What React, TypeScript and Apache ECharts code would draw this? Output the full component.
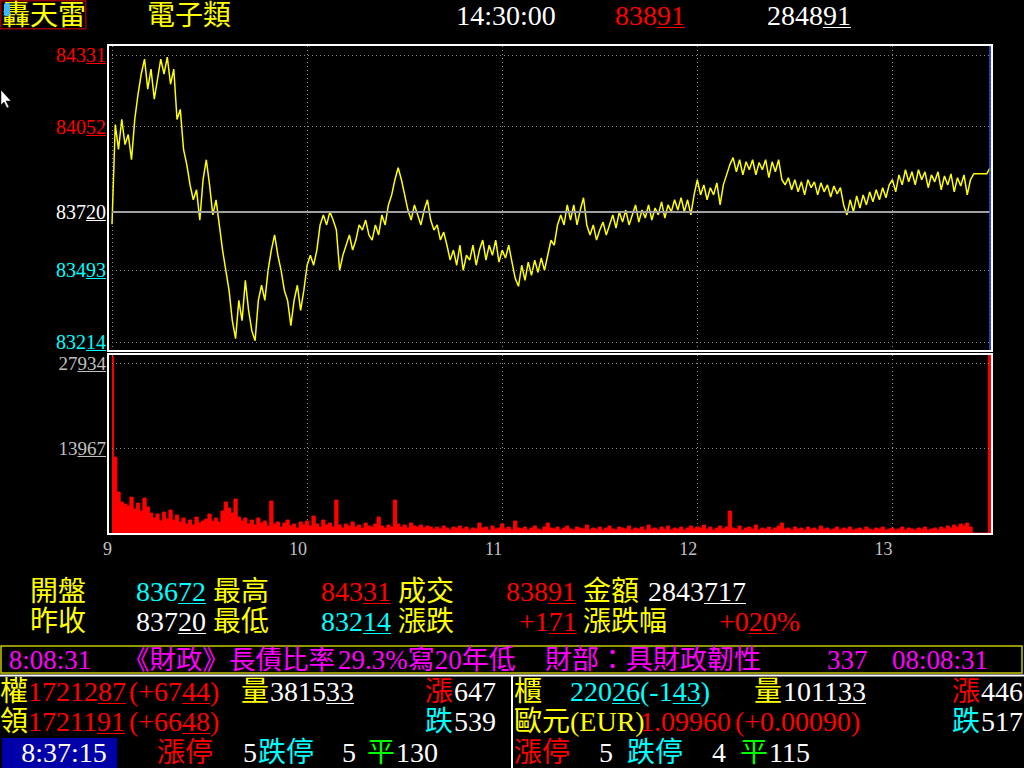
import { useEffect, useRef } from "react";
import * as echarts from "echarts";

const FONT = "'Liberation Serif', 'Noto Sans CJK TC', serif";

const HOUR_LABELS = ["9", "10", "11", "12", "13"];
const PRICE_LEVELS = [84331, 84052, 83720, 83493, 83214];
const PREV_CLOSE = 83720;
const VOLUME_LEVELS = [13967, 27934];

// index price, one value per minute from 9:00 (0) to 13:30 (270)
const PRICE: number[] = [
  83672, 84060, 83963, 84080, 83982, 84021, 83923, 84080, 84178, 84257,
  84315, 84198, 84276, 84159, 84237, 84315, 84257, 84323, 84217, 84276,
  84080, 84119, 83963, 83904, 83825, 83767, 83806, 83688, 83845, 83923,
  83825, 83708, 83767, 83669, 83571, 83492, 83414, 83296, 83226, 83375,
  83296, 83453, 83336, 83257, 83218, 83375, 83434, 83375, 83492, 83571,
  83630, 83551, 83492, 83414, 83375, 83277, 83375, 83434, 83336, 83414,
  83512, 83551, 83512, 83571, 83669, 83708, 83669, 83720, 83688, 83649,
  83492, 83551, 83590, 83630, 83571, 83610, 83669, 83649, 83688, 83630,
  83610, 83669, 83630, 83708, 83669, 83747, 83786, 83845, 83892, 83845,
  83786, 83727, 83688, 83747, 83708, 83669, 83727, 83767, 83688, 83649,
  83669, 83610, 83641, 83590, 83532, 83571, 83512, 83590, 83492, 83551,
  83532, 83590, 83512, 83571, 83610, 83532, 83590, 83551, 83610, 83524,
  83571, 83540, 83590, 83524, 83461, 83430, 83512, 83453, 83524, 83473,
  83532, 83484, 83540, 83492, 83551, 83610, 83590, 83669, 83708, 83669,
  83747, 83688, 83747, 83669, 83727, 83775, 83669, 83630, 83669, 83610,
  83649, 83680, 83630, 83669, 83708, 83657, 83720, 83680, 83727, 83669,
  83708, 83747, 83680, 83727, 83696, 83747, 83688, 83735, 83708, 83759,
  83696, 83747, 83720, 83767, 83727, 83775, 83720, 83767, 83708, 83786,
  83845, 83786, 83825, 83767, 83814, 83786, 83833, 83747, 83825, 83864,
  83904, 83931, 83876, 83923, 83864, 83915, 83884, 83923, 83864, 83912,
  83884, 83923, 83853, 83915, 83876, 83923, 83845, 83825, 83853, 83806,
  83845, 83798, 83837, 83786, 83845, 83814, 83837, 83786, 83833, 83798,
  83825, 83778, 83821, 83790, 83814, 83747, 83708, 83767, 83720, 83782,
  83735, 83786, 83747, 83798, 83759, 83806, 83767, 83814, 83775, 83825,
  83845, 83798, 83864, 83825, 83884, 83837, 83876, 83825, 83884, 83845,
  83876, 83814, 83864, 83837, 83876, 83806, 83860, 83825, 83868, 83798,
  83853, 83821, 83864, 83786, 83845, 83868, 83868, 83868, 83868, 83868,
  83891,
];

// traded volume per minute
const VOLUME: number[] = [
  29000, 12460, 6720, 5080, 4760, 4430, 5900, 3940, 4920, 3610,
  5740, 4260, 3280, 2460, 3120, 1970, 3440, 2300, 3770, 2130,
  2950, 1800, 2460, 1480, 2130, 1310, 2620, 1640, 1970, 2300,
  3120, 1970, 2460, 1800, 3610, 5080, 4100, 3280, 5580, 2620,
  1970, 2460, 1480, 2130, 1310, 2460, 1640, 1970, 1150, 5250,
  1480, 1800, 980, 1640, 2130, 1150, 1480, 820, 1800, 1310,
  1970, 1150, 2790, 1480, 980, 2130, 1310, 1640, 980, 5410,
  1310, 820, 1480, 1150, 1800, 980, 1310, 820, 1640, 1150,
  980, 1480, 2620, 1150, 820, 1310, 980, 5410, 1480, 980,
  1310, 820, 1640, 1150, 980, 1310, 820, 1150, 980, 660,
  980, 660, 1150, 820, 490, 980, 820, 1150, 660, 980,
  490, 820, 660, 1640, 820, 980, 490, 1150, 660, 820,
  1480, 660, 980, 490, 1970, 820, 660, 980, 490, 820,
  1150, 660, 490, 980, 1640, 820, 660, 980, 490, 820,
  1150, 660, 490, 980, 820, 660, 1310, 490, 820, 660,
  980, 490, 820, 1150, 660, 490, 980, 820, 660, 1150,
  490, 820, 660, 980, 490, 1310, 660, 820, 490, 980,
  660, 1150, 490, 820, 660, 980, 490, 820, 1150, 660,
  980, 820, 1310, 660, 980, 490, 820, 1150, 660, 980,
  3610, 820, 660, 1150, 490, 820, 980, 660, 1310, 490,
  820, 660, 980, 490, 820, 1150, 1640, 660, 820, 490,
  980, 660, 820, 490, 980, 660, 820, 490, 1150, 660,
  820, 490, 660, 980, 490, 820, 660, 980, 490, 660,
  820, 490, 980, 660, 490, 820, 660, 980, 490, 660,
  820, 490, 660, 980, 490, 820, 660, 490, 820, 660,
  980, 490, 660, 820, 490, 980, 660, 1150, 820, 1310,
  980, 1480, 1150, 1640, 980, 0, 0, 0, 0, 0,
  31000,
];

const Y = "#ffff00";
const R = "#ff0000";
const C = "#00ffff";
const W = "#ffffff";
const G = "#00ff00";
const M = "#ff00ff";
const GRAY = "#c0c0c0";

type Item = { x: number; y: number; t: string; c: string; s?: number; ul?: [number, number]; a?: "left" | "center" };

const TEXTS: Item[] = [
  // header
  { x: 2, y: 15, t: "轟天雷", c: Y },
  { x: 147, y: 15, t: "電子類", c: Y },
  { x: 506, y: 15, t: "14:30:00", c: W, a: "center" },
  { x: 615, y: 15, t: "83891", c: R, ul: [3, 5] },
  { x: 767, y: 15, t: "284891", c: W, ul: [4, 6] },
  // summary rows
  { x: 30, y: 591, t: "開盤", c: Y },
  { x: 136, y: 591, t: "83672", c: C, ul: [3, 5] },
  { x: 213, y: 591, t: "最高", c: Y },
  { x: 321, y: 591, t: "84331", c: R, ul: [3, 5] },
  { x: 398, y: 591, t: "成交", c: Y },
  { x: 506, y: 591, t: "83891", c: R, ul: [3, 5] },
  { x: 583, y: 591, t: "金額", c: Y },
  { x: 648, y: 591, t: "2843717", c: W, ul: [4, 7] },
  { x: 30, y: 621, t: "昨收", c: Y },
  { x: 136, y: 621, t: "83720", c: W, ul: [3, 5] },
  { x: 213, y: 621, t: "最低", c: Y },
  { x: 321, y: 621, t: "83214", c: C, ul: [3, 5] },
  { x: 398, y: 621, t: "漲跌", c: Y },
  { x: 519, y: 621, t: "+171", c: R, ul: [2, 4] },
  { x: 583, y: 621, t: "漲跌幅", c: Y },
  { x: 719, y: 621, t: "+020%", c: R, ul: [2, 4] },
  // ticker
  { x: 50, y: 660, t: "8:08:31", c: M, a: "center", s: 27 },
  { x: 123, y: 660, t: "《財政》長債比率", c: M, s: 26.5 },
  { x: 338, y: 660, t: "29.3%寫20年低", c: M, s: 27 },
  { x: 545, y: 660, t: "財部：具財政韌性", c: M, s: 27 },
  { x: 827, y: 660, t: "337", c: M, s: 27 },
  { x: 940, y: 660, t: "08:08:31", c: M, a: "center", s: 27 },
  // bottom left
  { x: 0, y: 691, t: "權", c: Y },
  { x: 28, y: 691, t: "1721287", c: R, ul: [5, 7] },
  { x: 129, y: 691, t: "(+6744)", c: R, ul: [4, 6] },
  { x: 241, y: 691, t: "量", c: Y },
  { x: 270, y: 691, t: "381533", c: W, ul: [4, 6] },
  { x: 425, y: 691, t: "漲", c: R },
  { x: 454, y: 691, t: "647", c: W },
  { x: 0, y: 721, t: "領", c: Y },
  { x: 28, y: 721, t: "1721191", c: R, ul: [5, 7] },
  { x: 129, y: 721, t: "(+6648)", c: R, ul: [4, 6] },
  { x: 425, y: 721, t: "跌", c: C },
  { x: 454, y: 721, t: "539", c: W },
  { x: 64, y: 752, t: "8:37:15", c: W, a: "center" },
  { x: 157, y: 752, t: "漲停", c: R },
  { x: 243, y: 752, t: "5", c: W },
  { x: 258, y: 752, t: "跌停", c: C },
  { x: 342, y: 752, t: "5", c: W },
  { x: 367, y: 752, t: "平", c: G },
  { x: 396, y: 752, t: "130", c: W },
  // bottom right
  { x: 514, y: 691, t: "櫃", c: Y },
  { x: 570, y: 691, t: "22026", c: C, ul: [3, 5] },
  { x: 640, y: 691, t: "(-143)", c: C, ul: [3, 5] },
  { x: 754, y: 691, t: "量", c: Y },
  { x: 783, y: 691, t: "101133", c: W, ul: [4, 6] },
  { x: 952, y: 691, t: "漲", c: R },
  { x: 981, y: 691, t: "446", c: W },
  { x: 514, y: 721, t: "歐元(EUR)", c: Y },
  { x: 640, y: 721, t: "1.09960", c: R },
  { x: 735, y: 721, t: "(+0.00090)", c: R },
  { x: 952, y: 721, t: "跌", c: C },
  { x: 981, y: 721, t: "517", c: W },
  { x: 514, y: 752, t: "漲停", c: R },
  { x: 599, y: 752, t: "5", c: W },
  { x: 627, y: 752, t: "跌停", c: C },
  { x: 712, y: 752, t: "4", c: W },
  { x: 740, y: 752, t: "平", c: G },
  { x: 769, y: 752, t: "115", c: W },
];

let ctx2d: CanvasRenderingContext2D | null = null;
function measure(s: string, size: number): number {
  if (!ctx2d) ctx2d = document.createElement("canvas").getContext("2d");
  if (!ctx2d) return s.length * size * 0.5;
  ctx2d.font = `${size}px ${FONT}`;
  return ctx2d.measureText(s).width;
}

function textEls(it: Item): any[] {
  const size = it.s ?? 28;
  const w = measure(it.t, size);
  const left = it.a === "center" ? it.x - w / 2 : it.x;
  const els: any[] = [
    {
      type: "text",
      x: left,
      y: it.y,
      z: 50,
      silent: true,
      style: {
        text: it.t,
        fill: it.c,
        font: `${size}px ${FONT}`,
        align: "left",
        verticalAlign: "middle",
        textAlign: "left",
        textVerticalAlign: "middle",
      },
    },
  ];
  if (it.ul) {
    const a = left + measure(it.t.slice(0, it.ul[0]), size);
    const b = left + measure(it.t.slice(0, it.ul[1]), size);
    const uy = Math.round(it.y + size * 0.42) + 0.5;
    els.push({
      type: "line",
      z: 50,
      silent: true,
      shape: { x1: a, y1: uy, x2: b, y2: uy },
      style: { stroke: it.c, lineWidth: 1 },
    });
  }
  return els;
}

function priceColor(v: number): string {
  if (v > PREV_CLOSE) return R;
  if (v < PREV_CLOSE) return C;
  return W;
}

const dotted = { color: "#8a8a8a", type: [1, 3] as any, width: 1 };
const PRICE_FS = 20;
const VOL_FS = 19;

export default function App() {
  const ref = useRef<HTMLDivElement>(null);

  useEffect(() => {
    if (!ref.current) return;
    const chart = echarts.init(ref.current, undefined, { renderer: "svg" });

    const hourFmt = (v: number) => (v % 60 === 0 && v / 60 < HOUR_LABELS.length ? HOUR_LABELS[v / 60] : "");

    chart.setOption({
      animation: false,
      backgroundColor: "#000000",
      grid: [
        { left: 112, top: 46, width: 878, height: 305 },
        { left: 112, top: 355, width: 878, height: 178 },
      ],
      xAxis: [
        {
          type: "value",
          gridIndex: 0,
          min: 0,
          max: 270,
          interval: 60,
          axisLine: { show: false },
          axisTick: { show: false },
          axisLabel: { show: false },
          splitLine: { show: true, lineStyle: dotted },
        },
        {
          type: "value",
          gridIndex: 1,
          min: 0,
          max: 270,
          interval: 60,
          axisLine: { show: false },
          axisTick: { show: false },
          axisLabel: {
            show: true,
            formatter: hourFmt,
            align: "right",
            color: GRAY,
            fontSize: 18,
            fontFamily: FONT,
            margin: 7,
          },
          splitLine: { show: true, lineStyle: dotted },
        },
      ],
      yAxis: [
        {
          type: "value",
          gridIndex: 0,
          min: 83178,
          max: 84366,
          axisLine: { show: false },
          axisTick: { show: false },
          splitLine: { show: false },
          axisLabel: {
            customValues: PRICE_LEVELS,
            formatter: (v: number) => String(v),
            color: (v: any) => priceColor(Number(v)),
            fontSize: PRICE_FS,
            lineHeight: 17,
            fontFamily: FONT,
            margin: 6,
          },
        },
        {
          type: "value",
          gridIndex: 1,
          min: 0,
          max: 29250,
          axisLine: { show: false },
          axisTick: { show: false },
          splitLine: { show: false },
          axisLabel: {
            customValues: VOLUME_LEVELS,
            formatter: (v: number) => String(v),
            color: GRAY,
            fontSize: VOL_FS,
            lineHeight: 16,
            fontFamily: FONT,
            margin: 6,
          },
        },
      ],
      series: [
        {
          type: "line",
          xAxisIndex: 0,
          yAxisIndex: 0,
          data: PRICE.map((p, i) => [i, p]),
          showSymbol: false,
          symbol: "none",
          lineStyle: { color: "#ffff00", width: 1.5 },
          z: 3,
          markLine: {
            silent: true,
            symbol: ["none", "none"],
            label: { show: false },
            z: 4,
            data: [
              ...PRICE_LEVELS.filter((v) => v !== PREV_CLOSE).map((v) => ({ yAxis: v, lineStyle: dotted })),
              { yAxis: PREV_CLOSE, lineStyle: { color: "#a0a0a0", type: "solid", width: 2 } },
              { xAxis: 270, lineStyle: { color: "#3050ff", type: "solid", width: 1.5 } },
            ],
          },
        },
        {
          type: "line",
          xAxisIndex: 1,
          yAxisIndex: 1,
          data: VOLUME.map((v, i) => [i, v]),
          step: "middle",
          showSymbol: false,
          symbol: "none",
          clip: true,
          lineStyle: { color: "#ff0000", width: 1 },
          areaStyle: { color: "#ff0000", opacity: 1 },
          z: 3,
          markLine: {
            silent: true,
            symbol: ["none", "none"],
            label: { show: false },
            data: [
              ...VOLUME_LEVELS.map((v) => ({ yAxis: v, lineStyle: dotted })),
              { xAxis: 270, lineStyle: { color: "#ff0000", type: "solid", width: 2 } },
            ],
          },
        },
      ],
    });

    const els: any[] = [];
    // frames
    els.push(
      { type: "rect", z: 60, silent: true, shape: { x: 108, y: 45, width: 884, height: 306 }, style: { fill: "none", stroke: W, lineWidth: 2 } },
      { type: "rect", z: 60, silent: true, shape: { x: 108, y: 354, width: 884, height: 180 }, style: { fill: "none", stroke: W, lineWidth: 2 } },
      { type: "rect", z: 40, silent: true, shape: { x: 0.75, y: 0.75, width: 85, height: 28 }, style: { fill: "none", stroke: "#900000", lineWidth: 1.5 } },
      { type: "rect", z: 55, silent: true, shape: { x: 4, y: 3, width: 6, height: 13, r: 2 }, style: { fill: "#40b8ff" } },
      { type: "rect", z: 40, silent: true, shape: { x: 1, y: 646, width: 1021, height: 27 }, style: { fill: "none", stroke: "#c8c800", lineWidth: 1.5 } },
      { type: "line", z: 40, silent: true, shape: { x1: 0, y1: 675.5, x2: 1024, y2: 675.5 }, style: { stroke: W, lineWidth: 2 } },
      { type: "line", z: 40, silent: true, shape: { x1: 512, y1: 675, x2: 512, y2: 768 }, style: { stroke: W, lineWidth: 2 } },
      { type: "rect", z: 40, silent: true, shape: { x: 2, y: 738, width: 115, height: 30 }, style: { fill: "#0000a8" } },
      {
        type: "polygon",
        z: 60,
        silent: true,
        shape: { points: [[1, 90], [1, 105], [4, 102], [7, 108], [9, 107], [6, 101], [11, 101]] },
        style: { fill: W, stroke: "#000", lineWidth: 0.5 },
      }
    );
    TEXTS.forEach((it) => els.push(...textEls(it)));

    // underlines under axis labels (last digits), placed via the axis scales
    PRICE_LEVELS.forEach((v) => {
      const py = chart.convertToPixel({ yAxisIndex: 0 } as any, v) as unknown as number;
      const s = String(v);
      const w = measure(s.slice(3), PRICE_FS);
      const uy = Math.round(py + 8) + 0.5;
      els.push({ type: "line", z: 50, silent: true, shape: { x1: 106 - w, y1: uy, x2: 106, y2: uy }, style: { stroke: priceColor(v), lineWidth: 1 } });
    });
    VOLUME_LEVELS.forEach((v) => {
      const py = chart.convertToPixel({ yAxisIndex: 1 } as any, v) as unknown as number;
      const s = String(v);
      const w = measure(s.slice(2), VOL_FS);
      const uy = Math.round(py + 8) + 0.5;
      els.push({ type: "line", z: 50, silent: true, shape: { x1: 106 - w, y1: uy, x2: 106, y2: uy }, style: { stroke: GRAY, lineWidth: 1 } });
    });

    chart.setOption({ graphic: els });

    return () => chart.dispose();
  }, []);

  return (
    <div
      ref={ref}
      style={{ position: "fixed", left: 0, top: 0, width: 1024, height: 768, background: "#000" }}
    />
  );
}
